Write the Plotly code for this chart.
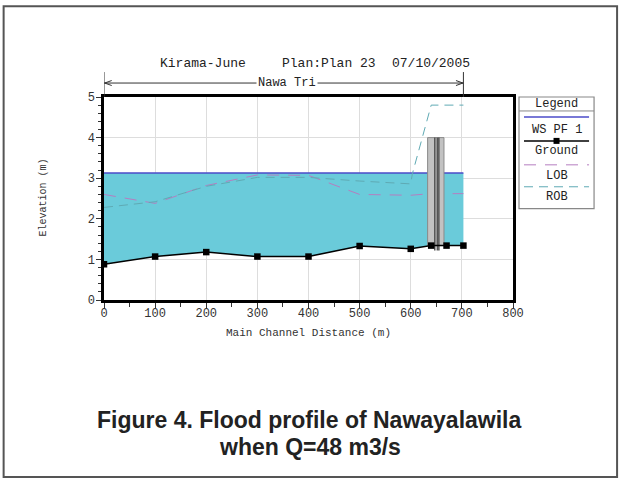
import plotly.graph_objects as go

# ---------------- data ----------------
station = [0, 100, 200, 300, 400, 500, 600, 640, 670, 703]
ground = [0.88, 1.07, 1.18, 1.07, 1.07, 1.33, 1.26, 1.34, 1.34, 1.34]

ws_station = [0, 703]
ws_pf1 = [3.13, 3.13]

lob_station = [0, 100, 200, 300, 400, 500, 600, 640, 670, 703]
lob = [2.60, 2.38, 2.82, 3.08, 3.07, 2.60, 2.58, 2.62, 2.62, 2.62]

rob_station = [0, 100, 200, 300, 400, 500, 600, 603, 640, 670, 703]
rob = [2.28, 2.42, 2.80, 3.02, 3.02, 2.93, 2.86, 3.10, 4.80, 4.80, 4.80]

bridge_station = [633, 665]
bridge_top = 4.0
bridge_bottom = 1.34
pier_station = [647, 652, 655]
pier_bottom = 1.22

x_ticks = [0, 100, 200, 300, 400, 500, 600, 700, 800]
y_ticks = [0, 1, 2, 3, 4, 5]

title_parts = ["Kirama-June", "Plan:Plan 23", "07/10/2005"]
reach_name = "Nawa Tri"
legend_names = ["WS PF 1", "Ground", "LOB", "ROB"]
caption = ["Figure 4. Flood profile of Nawayalawila", "when Q=48 m3/s"]

# ---------------- layout helpers ----------------
W, H = 622, 484
X0, X1 = 104.3, 513.0   # pixel x of plot area left/right
Y0, Y1 = 300.5, 97.0    # pixel y of plot area bottom/top


def fx(px):
    return (px - X0) / (X1 - X0)


def fy(py):
    return (Y0 - py) / (Y0 - Y1)


MONO = "Liberation Mono"
fig = go.Figure()

# invisible ground for fill base
fig.add_trace(go.Scatter(x=station, y=ground, mode="lines",
                         line=dict(width=0, color="rgba(0,0,0,0)"),
                         hoverinfo="skip", showlegend=False))
# water surface with fill
fig.add_trace(go.Scatter(x=ws_station, y=ws_pf1, mode="lines", fill="tonexty",
                         fillcolor="#6ACBDA", line=dict(color="#4B4BC8", width=1.5),
                         name=legend_names[0], showlegend=False))
# LOB / ROB
fig.add_trace(go.Scatter(x=lob_station, y=lob, mode="lines",
                         line=dict(color="#B57EC0", width=1, dash="12px,9px"),
                         name=legend_names[2], showlegend=False))
fig.add_trace(go.Scatter(x=rob_station, y=rob, mode="lines",
                         line=dict(color="#5FAAB4", width=1, dash="9px,6px"),
                         name=legend_names[3], showlegend=False))
# bridge deck
fig.add_trace(go.Scatter(
    x=[bridge_station[0], bridge_station[1], bridge_station[1], bridge_station[0], bridge_station[0]],
    y=[bridge_bottom, bridge_bottom, bridge_top, bridge_top, bridge_bottom],
    mode="lines", fill="toself", fillcolor="#C2C2C2",
    line=dict(color="#8A8A8A", width=1), hoverinfo="skip", showlegend=False))
# piers
for p in pier_station:
    fig.add_trace(go.Scatter(x=[p, p], y=[pier_bottom, bridge_top], mode="lines",
                             line=dict(color="#555555", width=1.5),
                             hoverinfo="skip", showlegend=False))
# ground line
fig.add_trace(go.Scatter(x=station, y=ground, mode="lines+markers",
                         line=dict(color="black", width=1.5),
                         marker=dict(symbol="square", size=6.5, color="black"),
                         name=legend_names[1], showlegend=False))

fig.update_layout(
    width=W, height=H, autosize=False,
    margin=dict(l=X0, r=W - X1, t=Y1, b=H - Y0, pad=0),
    paper_bgcolor="white", plot_bgcolor="white",
    showlegend=False,
    font=dict(family=MONO, size=12, color="#333333"),
)
fig.update_xaxes(range=[0, 800], tickvals=x_ticks, ticks="outside", ticklen=5,
                 tickcolor="#333", showgrid=True, gridcolor="#DDDDDD", gridwidth=1,
                 showline=True, linecolor="black", linewidth=2.5, mirror=True,
                 zeroline=False, tickfont=dict(family=MONO, size=12, color="#333"),
                 ticklabelstandoff=-5,
                 minor=dict(ticks="outside", ticklen=4, dtick=50, tickcolor="#333", showgrid=False))
fig.update_yaxes(range=[0, 5], tickvals=y_ticks, ticks="outside", ticklen=5,
                 tickcolor="#333", showgrid=True, gridcolor="#DDDDDD", gridwidth=1,
                 showline=True, linecolor="black", linewidth=2.5, mirror=True,
                 zeroline=False, tickfont=dict(family=MONO, size=12, color="#333"),
                 ticklabelstandoff=-1,
                 minor=dict(ticks="outside", ticklen=3, dtick=0.2, tickcolor="#333", showgrid=False))

ann = []
shapes = []


def text(txt, px, py, size=11, family=MONO, color="#222", xanchor="center", **kw):
    ann.append(dict(text=txt, x=fx(px), y=fy(py), xref="paper", yref="paper",
                    xanchor=xanchor, yanchor="middle", showarrow=False,
                    font=dict(family=family, size=size, color=color), **kw))


# title pieces
for txt, px in zip(title_parts, [158, 280, 390]):
    text(txt, px, 63, size=13, xanchor="left")

# reach arrow
ya = fy(83)
shapes.append(dict(type="line", xref="x", yref="paper", x0=0, x1=ws_station[-1], y0=ya, y1=ya,
                   line=dict(color="#333", width=1)))
for xe in [0, ws_station[-1]]:
    shapes.append(dict(type="line", xref="x", yref="paper", x0=xe, x1=xe, y0=fy(72), y1=1.0,
                       line=dict(color="#333", width=1)))
shapes.append(dict(type="path", xref="paper", yref="paper",
                   path=f"M{fx(112)},{fy(80.5)} L{fx(105)},{ya} L{fx(112)},{fy(85.5)}",
                   line=dict(color="#333", width=1)))
shapes.append(dict(type="path", xref="paper", yref="paper",
                   path=f"M{fx(456)},{fy(80.5)} L{fx(463)},{ya} L{fx(456)},{fy(85.5)}",
                   line=dict(color="#333", width=1)))
text(reach_name, 287, 83, size=12, bgcolor="white", borderpad=1)

# axis titles
text("Elevation (m)", 44, 198, size=10, color="#333", textangle=-90)
text("Main Channel Distance (m)", 309, 334, size=11, color="#333")

# legend box
lx0, lx1, ly0, ly1 = 519, 594, 97, 209
shapes.append(dict(type="rect", xref="paper", yref="paper", x0=fx(lx0), x1=fx(lx1),
                   y0=fy(ly1), y1=fy(ly0), line=dict(color="#888", width=1.2), fillcolor="white"))
shapes.append(dict(type="line", xref="paper", yref="paper", x0=fx(lx0), x1=fx(lx1),
                   y0=fy(111), y1=fy(111), line=dict(color="#888", width=1)))
text("Legend", 556.5, 104, size=12)
leg_styles = [("#4B4BC8", "solid", 1.5), ("black", "solid", 1.5),
              ("#B57EC0", "12px,9px", 1), ("#5FAAB4", "9px,6px", 1)]
line_y = [117, 141, 165, 187]
text_y = [130, 151, 176, 197]
for (col, dash, wd), ly, ty, name in zip(leg_styles, line_y, text_y, legend_names):
    shapes.append(dict(type="line", xref="paper", yref="paper", x0=fx(524), x1=fx(589),
                       y0=fy(ly), y1=fy(ly), line=dict(color=col, width=wd, dash=dash)))
    text(name, 556.5, ty, size=12)
shapes.append(dict(type="rect", xref="paper", yref="paper", x0=fx(553.5), x1=fx(559.5),
                   y0=fy(144), y1=fy(138), line=dict(width=0), fillcolor="black"))

# caption
for txt, py in zip(caption, [421, 448]):
    text(f"<b>{txt}</b>", 310, py, size=23, family="Liberation Sans")

# outer frame
shapes.append(dict(type="rect", xref="paper", yref="paper", x0=fx(4), x1=fx(617),
                   y0=fy(478), y1=fy(6), line=dict(color="#555", width=2), layer="below"))

fig.update_layout(annotations=ann, shapes=shapes)
fig.write_html("out.html", config={"displayModeBar": False},
               post_script="document.body.style.margin='0';")
